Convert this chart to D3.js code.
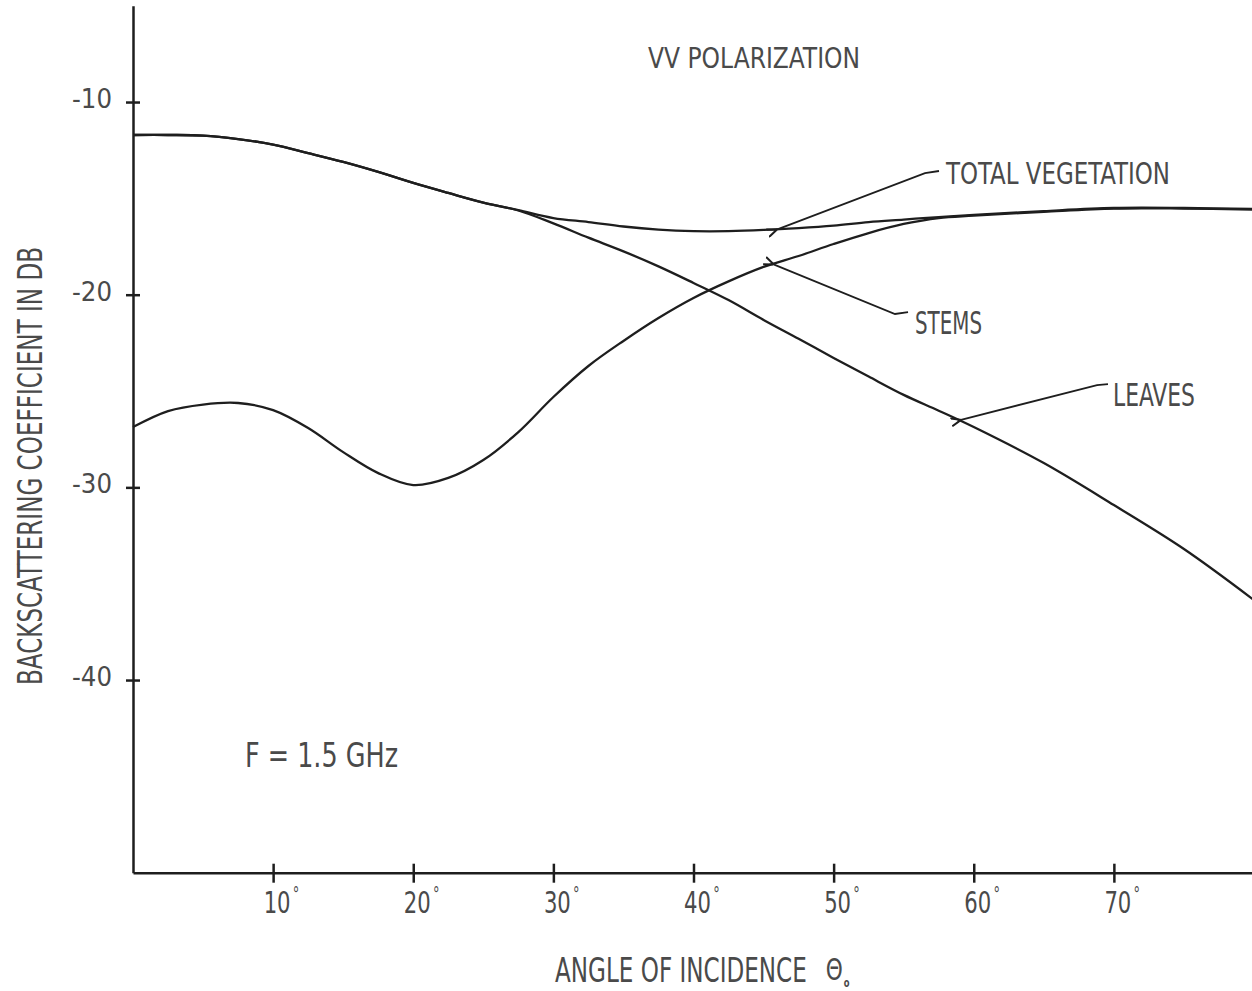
<!DOCTYPE html>
<html>
<head>
<meta charset="utf-8">
<script src="https://cdn.jsdelivr.net/npm/d3@7"></script>
<style>
  body { margin: 0; background: #fff; }
  text { font-family: "DejaVu Sans Condensed", "DejaVu Sans", sans-serif; fill: #4a4a4a; }
</style>
</head>
<body>
<div id="chart"></div>
<script>
// angle of incidence (deg)
const angles = [0, 2.5, 5, 7.5, 10, 12.5, 15, 17.5, 20, 22.5, 25, 27.5, 30, 32.5, 35, 37.5,
                40, 42.5, 45, 47.5, 50, 52.5, 55, 57.5, 60, 65, 70, 75, 80];

// backscattering coefficient (dB)
const totalVegetation = [-11.71, -11.71, -11.74, -11.92, -12.21, -12.65, -13.11, -13.63, -14.20, -14.72,
                         -15.22, -15.61, -16.02, -16.23, -16.46, -16.62, -16.70, -16.70, -16.64, -16.54,
                         -16.41, -16.23, -16.10, -15.97, -15.86, -15.66, -15.50, -15.50, -15.55];
const leaves = [-11.71, -11.71, -11.74, -11.92, -12.21, -12.65, -13.11, -13.63, -14.20, -14.72,
                -15.22, -15.63, -16.30, -17.04, -17.75, -18.53, -19.39, -20.28, -21.31, -22.29,
                -23.28, -24.25, -25.20, -26.02, -26.87, -28.74, -30.92, -33.20, -35.85];
const stems = [-26.87, -26.04, -25.70, -25.62, -25.99, -26.92, -28.17, -29.26, -29.88, -29.51,
               -28.58, -27.13, -25.31, -23.70, -22.40, -21.21, -20.17, -19.31, -18.56, -17.99,
               -17.37, -16.80, -16.33, -16.02, -15.90, -15.70, -15.53, -15.53, -15.58];

const xTickValues = [10, 20, 30, 40, 50, 60, 70];
const yTickValues = [-10, -20, -30, -40];

const titleText = "VV POLARIZATION";
const freqText = "F = 1.5 GHz";
const xLabel = "ANGLE OF INCIDENCE";
const yLabel = "BACKSCATTERING COEFFICIENT IN DB";

const width = 1252, height = 991;
const ink = "#1e1e1e";

const svg = d3.select("#chart")
    .append("svg")
    .attr("width", width)
    .attr("height", height);

const x = d3.scaleLinear().domain([0, 80]).range([133, 1254]);
const y = d3.scaleLinear().domain([-50, -5]).range([872.7, 5.7]);

// axes
const xAxis = svg.append("g")
    .attr("transform", `translate(0,${y(-50)})`)
    .call(d3.axisBottom(x).tickValues(xTickValues).tickSize(0).tickSizeOuter(0).tickFormat(""));
xAxis.selectAll(".tick line").attr("y1", -9).attr("y2", 10);

const yAxis = svg.append("g")
    .attr("transform", `translate(${x(0)},0)`)
    .call(d3.axisLeft(y).tickValues(yTickValues).tickSizeOuter(0).tickFormat(""));
yAxis.selectAll(".tick line").attr("x1", -7).attr("x2", 7);

svg.selectAll(".domain, .tick line")
    .attr("stroke", ink)
    .attr("stroke-width", 2.5);

// tick labels
svg.append("g").selectAll("text")
    .data(yTickValues)
    .join("text")
    .attr("x", x(0) - 21)
    .attr("y", d => y(d) + 6)
    .attr("text-anchor", "end")
    .attr("font-size", 27)
    .attr("textLength", 40)
    .attr("lengthAdjust", "spacingAndGlyphs")
    .text(d => "-" + Math.abs(d));

// x labels: narrow digits with a raised degree sign, one text each
const xLabels = svg.append("g").selectAll("text")
    .data(xTickValues)
    .join("text")
    .attr("transform", d => `translate(${x(d) + 4 - 13.5},913) scale(0.76,1)`)
    .attr("font-size", 31);
xLabels.append("tspan").text(d => d);
xLabels.append("tspan")
    .attr("dx", 3)
    .attr("dy", -12)
    .attr("font-size", 19)
    .text("°");

// curves
const line = d3.line()
    .x((d, i) => x(angles[i]))
    .y(d => y(d))
    .curve(d3.curveCatmullRom.alpha(0.5));

[totalVegetation, leaves, stems].forEach(series => {
    svg.append("path")
        .datum(series)
        .attr("fill", "none")
        .attr("stroke", ink)
        .attr("stroke-width", 2.3)
        .attr("d", line);
});

// leader arrows (points in data units: [angle, dB])
svg.append("defs").append("marker")
    .attr("id", "arrow")
    .attr("viewBox", "0 0 10 10")
    .attr("refX", 1).attr("refY", 5)
    .attr("markerWidth", 10).attr("markerHeight", 10)
    .attr("markerUnits", "userSpaceOnUse")
    .attr("orient", "auto-start-reverse")
    .append("path")
    .attr("d", "M10,1 L0,5 L10,9")
    .attr("fill", "none")
    .attr("stroke", ink)
    .attr("stroke-width", 2);

const leaders = [
    [[45.89, -16.64], [56.52, -13.69], [57.52, -13.58]],
    [[45.67, -18.41], [54.38, -21.00], [55.31, -20.90]],
    [[59.02, -26.51], [68.80, -24.69], [69.58, -24.64]]
];
const leaderLine = d3.line().x(d => x(d[0])).y(d => y(d[1]));
leaders.forEach(pts => {
    svg.append("path")
        .attr("d", leaderLine(pts))
        .attr("fill", "none")
        .attr("stroke", ink)
        .attr("stroke-width", 1.8)
        .attr("marker-start", "url(#arrow)");
});

// annotation texts
const notes = [
    { text: "TOTAL VEGETATION", px: 946, py: 184, size: 31, len: 224 },
    { text: "STEMS", px: 915, py: 334, size: 32, len: 67 },
    { text: "LEAVES", px: 1113, py: 406, size: 32, len: 82 },
    { text: titleText, px: 648, py: 68, size: 29, len: 212 },
    { text: freqText, px: 245, py: 767, size: 33, len: 153 }
];
svg.append("g").selectAll("text")
    .data(notes)
    .join("text")
    .attr("x", d => d.px)
    .attr("y", d => d.py)
    .attr("font-size", d => d.size)
    .attr("textLength", d => d.len)
    .attr("lengthAdjust", "spacingAndGlyphs")
    .text(d => d.text);

// x axis title with theta and subscript in one text, squeezed to the reference width
const xTitle = svg.append("text").attr("font-size", 33);
const xTitleMain = xTitle.append("tspan").text(xLabel);
const natural = xTitleMain.node().getComputedTextLength();
const sx = 252 / natural;
xTitle.attr("transform", `translate(555,982) scale(${sx},1)`);
xTitle.append("tspan")
    .attr("dx", 19 / sx)
    .attr("dy", -2)
    .attr("font-size", 31)
    .text("Θ");
xTitle.append("tspan")
    .attr("dx", 1)
    .attr("dy", 7)
    .attr("font-size", 12)
    .attr("font-weight", "bold")
    .text("o");

// y axis title
svg.append("text")
    .attr("transform", "translate(42,466) rotate(-90)")
    .attr("text-anchor", "middle")
    .attr("font-size", 33)
    .attr("textLength", 438)
    .attr("lengthAdjust", "spacingAndGlyphs")
    .text(yLabel);
</script>
</body>
</html>
